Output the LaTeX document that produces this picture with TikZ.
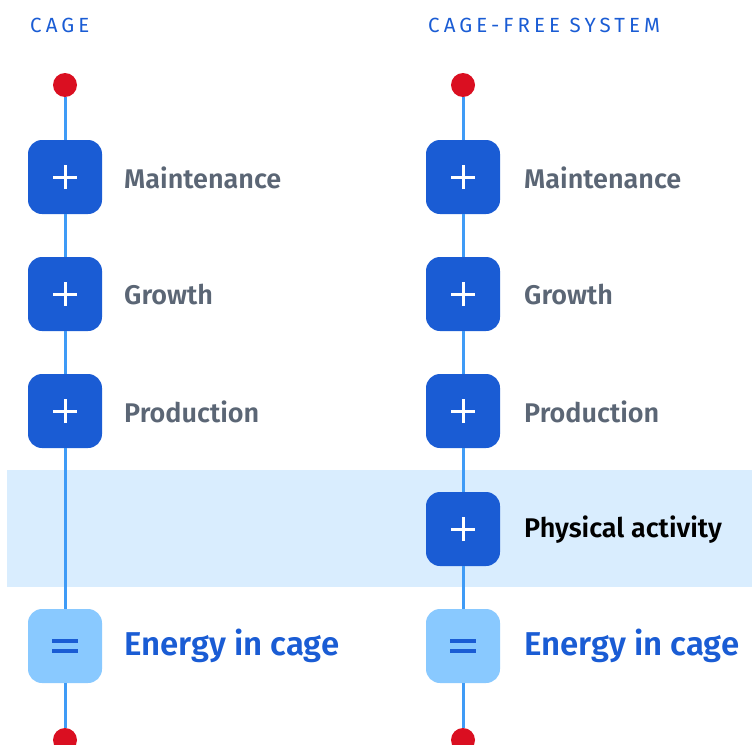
\documentclass[tikz,border=0pt]{standalone}
\usepackage{fontspec}
\setmainfont{Fira Sans}[BoldFont={Fira Sans SemiBold}]
\definecolor{boxblue}{HTML}{1A5CD4}
\definecolor{lightbox}{HTML}{89C9FF}
\definecolor{linecol}{HTML}{3F9BF6}
\definecolor{dotred}{HTML}{DA0F21}
\definecolor{bandcol}{HTML}{D9EDFE}
\definecolor{labgray}{HTML}{5B6675}
\definecolor{headblue}{HTML}{1A5CD4}
\begin{document}
\begin{tikzpicture}[x=1pt,y=-1pt,
  plusbox/.style={draw=none,fill=boxblue,rounded corners=14pt,minimum width=74pt,minimum height=74pt,inner sep=0pt,
    path picture={\draw[white,line width=3pt] ([xshift=-12pt]path picture bounding box.center) -- ([xshift=12pt]path picture bounding box.center);
                  \draw[white,line width=3pt] ([yshift=-12pt]path picture bounding box.center) -- ([yshift=12pt]path picture bounding box.center);}},
  eqbox/.style={draw=none,fill=lightbox,rounded corners=14pt,minimum width=74pt,minimum height=74pt,inner sep=0pt,
    path picture={\draw[boxblue,line width=4pt] ([xshift=-13pt,yshift=5pt]path picture bounding box.center) -- ([xshift=13pt,yshift=5pt]path picture bounding box.center);
                  \draw[boxblue,line width=4pt] ([xshift=-13pt,yshift=-5pt]path picture bounding box.center) -- ([xshift=13pt,yshift=-5pt]path picture bounding box.center);}},
  reddot/.style={circle,fill=dotred,minimum size=24pt,inner sep=0pt},
  conn/.style={draw=linecol,line width=3pt},
  lab/.style={anchor=west,font=\bfseries\fontsize{27}{30}\selectfont,text=labgray,inner sep=0pt},
  labdark/.style={anchor=west,font=\bfseries\fontsize{27}{30}\selectfont,text=black,inner sep=0pt},
  labenergy/.style={anchor=west,font=\bfseries\fontsize{33}{36}\selectfont,text=boxblue,inner sep=0pt},
  head/.style={anchor=west,font=\fontsize{20.5}{23}\selectfont\addfontfeatures{LetterSpace=20},text=headblue,inner sep=0pt}
]
\useasboundingbox (0,0) rectangle (752,744);
\fill[bandcol] (7,470) rectangle (752,587);

\node[head] (h1) at (30,25) {CAGE};
\node[head] (h2) at (428,25) {CAGE-FREE SYSTEM};

% left column
\node[reddot] (ld1) at (65,85) {};
\node[plusbox] (lm) at (65,177) {};
\node[plusbox] (lg) at (65,294) {};
\node[plusbox] (lp) at (65,411) {};
\node[eqbox] (le) at (65,646) {};
\node[reddot] (ld2) at (65,740) {};
\draw[conn] (ld1) -- (lm);
\draw[conn] (lm) -- (lg);
\draw[conn] (lg) -- (lp);
\draw[conn] (lp) -- (le);
\draw[conn] (le) -- (ld2);
\node[lab] (lmt) at (124,178) {Maintenance};
\node[lab] (lgt) at (124,295) {Growth};
\node[lab] (lpt) at (124,412) {Production};
\node[labenergy] (let) at (124,646) {Energy in cage};

% right column
\node[reddot] (rd1) at (463,85) {};
\node[plusbox] (rm) at (463,177) {};
\node[plusbox] (rg) at (463,294) {};
\node[plusbox] (rp) at (463,411) {};
\node[plusbox] (ra) at (463,529) {};
\node[eqbox] (re) at (463,646) {};
\node[reddot] (rd2) at (463,740) {};
\draw[conn] (rd1) -- (rm);
\draw[conn] (rm) -- (rg);
\draw[conn] (rg) -- (rp);
\draw[conn] (rp) -- (ra);
\draw[conn] (ra) -- (re);
\draw[conn] (re) -- (rd2);
\node[lab] (rmt) at (524,178) {Maintenance};
\node[lab] (rgt) at (524,295) {Growth};
\node[lab] (rpt) at (524,412) {Production};
\node[labdark] (rat) at (524,530) {Physical activity};
\node[labenergy] (ret) at (524,646) {Energy in cage};
\end{tikzpicture}
\end{document}
